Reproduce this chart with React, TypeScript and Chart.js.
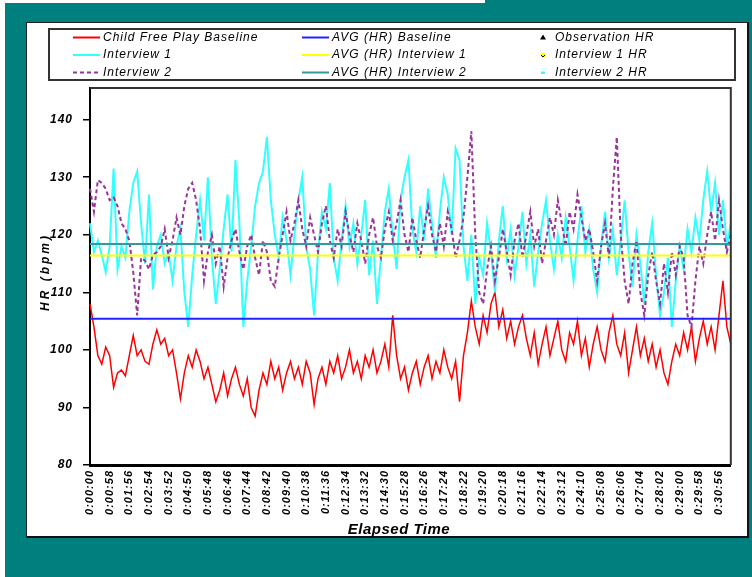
import React, { useEffect, useRef } from 'react';
import { Chart, registerables } from 'chart.js';

Chart.register(...registerables);

// x-axis tick labels (one every POINTS_PER_TICK samples)
const TICK_LABELS = [
  '0:00:00', '0:00:58', '0:01:56', '0:02:54', '0:03:52', '0:04:50', '0:05:48', '0:06:46',
  '0:07:44', '0:08:42', '0:09:40', '0:10:38', '0:11:36', '0:12:34', '0:13:32', '0:14:30',
  '0:15:28', '0:16:26', '0:17:24', '0:18:22', '0:19:20', '0:20:18', '0:21:16', '0:22:14',
  '0:23:12', '0:24:10', '0:25:08', '0:26:06', '0:27:04', '0:28:02', '0:29:00', '0:29:58',
  '0:30:56',
];
const POINTS_PER_TICK = 5;

const Y_TICKS = [80, 90, 100, 110, 120, 130, 140];
const Y_MIN = 80;
const Y_MAX = 145.5;

// Child Free Play Baseline
const BASELINE = [
  108, 104, 99, 97.5, 100.5, 99, 93.5, 96, 96.5, 95.5,
  99, 102.5, 99, 100, 98, 97.5, 101, 103.5, 101, 102,
  99, 100, 96, 91.5, 96, 99, 97, 100, 98, 95,
  97, 94, 91, 93, 96, 92, 95, 97, 94, 92,
  95, 90, 88.5, 93, 96, 94, 98, 95, 97, 93,
  96, 98, 95, 97, 94, 98, 96, 90.5, 95, 97,
  94, 98, 96, 99, 95, 97, 100, 96, 98, 95,
  99, 97, 100, 96, 98, 101, 97, 106, 99, 95,
  97, 93, 96, 98, 94, 97, 99, 95, 98, 96,
  100, 97, 95, 98, 91, 99, 103, 108.5, 104, 101,
  106, 103, 108, 110, 104, 107, 102, 105, 101, 104,
  106, 102, 99, 103, 97.5, 101, 104, 99, 102, 105,
  100, 98, 103, 101, 105, 99, 102, 97, 101, 104,
  100, 98, 103, 106, 101, 99, 103, 96, 100, 104,
  99, 102, 98, 101, 97, 100, 96, 94, 98, 101,
  99, 103, 100, 104, 98, 102, 105, 101, 104, 100,
  106, 112, 104, 101,
];

// Interview 1
const INTERVIEW1 = [
  122, 117, 119, 116.5, 113.5, 118, 131.5, 114, 118, 116,
  124, 129, 131, 122, 115, 127, 110.5, 118, 120, 115,
  117, 112, 118, 121, 110, 104, 113, 120, 126, 119,
  130, 116, 108, 114, 121, 127, 117, 133, 122, 104,
  112, 118, 125, 129, 131, 137, 126, 120, 116, 123,
  119, 113, 120, 126, 130, 118, 114, 106, 117, 124,
  121, 129, 116, 112, 119, 125, 118, 122, 115, 120,
  126, 113, 119, 108, 116, 124, 128, 120, 114, 126,
  130, 133, 121, 117, 125, 119, 128, 122, 116, 124,
  130, 127, 120, 135, 133, 118, 112, 120, 108, 116,
  113, 122, 117, 110, 119, 125, 116, 121, 113, 118,
  124, 115, 120, 111, 117, 122, 126, 119, 114, 120,
  116, 123, 118, 112, 119, 125, 117, 121, 114, 110,
  118, 124, 116, 121, 113, 119, 126, 117, 111, 120,
  115, 108, 117, 122, 113, 106, 110, 116, 104, 112,
  118, 114, 121, 117, 123, 119, 126, 131, 124, 129,
  120, 126, 118, 122,
];

// Interview 2
const INTERVIEW2 = [
  128, 124, 129.5, 129, 128, 126, 126.5, 125, 122, 121,
  119, 113.5, 106, 116, 115.5, 114, 116.5, 117, 118, 121,
  116, 119, 123, 120, 125, 128, 129, 126, 121, 112,
  117, 120, 115, 118, 111, 116, 119, 121, 117, 114,
  118, 120, 116, 113, 119, 117, 112, 111, 116, 120,
  124, 119, 122, 126, 121, 118, 123, 120, 117, 122,
  125, 119, 116, 121, 118, 124, 120, 117, 122, 119,
  115, 120, 123, 118, 116, 121, 124, 119, 122, 126,
  120, 117, 123, 119, 116, 121, 125, 120, 117, 122,
  118, 124, 121, 116, 119, 123, 130, 138, 120, 110,
  108, 114, 118, 112, 116, 121, 117, 113, 119, 122,
  116, 120, 124, 118, 121, 115, 119, 123, 120, 126,
  122, 118, 124, 121, 127, 123, 119, 121, 117, 112,
  118, 122, 116, 128, 137, 120, 112, 108, 115, 119,
  110, 106, 113, 117, 112, 108, 115, 110, 117, 113,
  118, 116, 106, 104, 112, 118, 115, 120, 124, 119,
  126, 121, 117, 120,
];

const AVG_BASELINE = 105.4;
const AVG_INTERVIEW1 = 116.4;
const AVG_INTERVIEW2 = 118.4;

const LEGEND_NAMES = [
  'Child Free Play Baseline', 'Interview 1', 'Interview 2',
  'AVG (HR) Baseline', 'AVG (HR) Interview 1', 'AVG (HR) Interview 2',
  'Observation HR', 'Interview 1 HR', 'Interview 2 HR',
];

const FONT = '"Liberation Sans", Arial, sans-serif';

const RED = '#ff0000';
const CYAN = '#33ffff';
const PURPLE = '#993399';
const BLUE = '#2222ff';
const YELLOW = '#ffff00';
const TEAL = '#339999';

export default function App() {
  const ref = useRef<HTMLCanvasElement>(null);

  useEffect(() => {
    document.body.style.margin = '0';
    const canvas = ref.current;
    if (!canvas) return;
    const n = BASELINE.length;
    const labels = Array.from({ length: n }, (_, i) =>
      i % POINTS_PER_TICK === 0 && TICK_LABELS[i / POINTS_PER_TICK] ? TICK_LABELS[i / POINTS_PER_TICK] : ''
    );
    const flat = (v: number) => BASELINE.map(() => v);

    const decor = {
      id: 'decor',
      beforeDraw(chart: any) {
        chart.ctx.letterSpacing = '1px';
      },
      afterDraw(chart: any) {
        const ctx = chart.ctx as CanvasRenderingContext2D;
        const ca = chart.chartArea;
        ctx.save();
        // plot frame (top & right)
        ctx.strokeStyle = '#333';
        ctx.lineWidth = 2;
        ctx.beginPath();
        ctx.moveTo(ca.left, ca.top);
        ctx.lineTo(ca.right, ca.top);
        ctx.lineTo(ca.right, ca.bottom);
        ctx.stroke();

        // legend box
        ctx.strokeStyle = '#333';
        ctx.lineWidth = 2;
        ctx.strokeRect(23, 7, 686, 51);

        const rows = [15.5, 33, 50.5];
        ctx.font = `italic 12px ${FONT}`;
        ctx.fillStyle = '#000';
        ctx.textBaseline = 'middle';
        ctx.textAlign = 'left';
        (ctx as any).letterSpacing = '1px';
        const lineItems = [
          { x: 47, y: rows[0], color: RED, dash: [] as number[] },
          { x: 47, y: rows[1], color: CYAN, dash: [] },
          { x: 47, y: rows[2], color: PURPLE, dash: [4, 3] },
          { x: 276, y: rows[0], color: BLUE, dash: [] },
          { x: 276, y: rows[1], color: YELLOW, dash: [] },
          { x: 276, y: rows[2], color: TEAL, dash: [] },
        ];
        lineItems.forEach((it, k) => {
          ctx.strokeStyle = it.color;
          ctx.lineWidth = 2;
          ctx.setLineDash(it.dash);
          ctx.beginPath();
          ctx.moveTo(it.x, it.y);
          ctx.lineTo(it.x + 27, it.y);
          ctx.stroke();
          ctx.setLineDash([]);
          ctx.fillText(LEGEND_NAMES[k], it.x + 30, it.y);
        });
        // marker items
        const mx = 517;
        ctx.fillStyle = '#000';
        ctx.beginPath();
        ctx.moveTo(mx, rows[0] - 3);
        ctx.lineTo(mx + 3, rows[0] + 2);
        ctx.lineTo(mx - 3, rows[0] + 2);
        ctx.closePath();
        ctx.fill();
        ctx.fillStyle = YELLOW;
        ctx.beginPath();
        ctx.arc(mx, rows[1], 2.5, 0, Math.PI * 2);
        ctx.fill();
        ctx.strokeStyle = '#000';
        ctx.lineWidth = 1;
        ctx.beginPath();
        ctx.moveTo(mx - 2, rows[1]);
        ctx.lineTo(mx, rows[1] + 2);
        ctx.lineTo(mx + 2, rows[1]);
        ctx.stroke();
        ctx.fillStyle = CYAN;
        ctx.fillRect(mx - 2, rows[2] - 1, 4, 2.5);
        ctx.fillStyle = '#000';
        for (let k = 6; k < 9; k++) ctx.fillText(LEGEND_NAMES[k], 529, rows[k - 6]);

        // axis titles
        ctx.fillStyle = '#000';
        ctx.textAlign = 'center';
        ctx.textBaseline = 'middle';
        ctx.font = `italic bold 15px ${FONT}`;
        (ctx as any).letterSpacing = '0.5px';
        ctx.fillText('Elapsed Time', 373, 508);
        ctx.translate(20, 250);
        ctx.rotate(-Math.PI / 2);
        ctx.font = `italic bold 12px ${FONT}`;
        (ctx as any).letterSpacing = '3px';
        ctx.fillText('HR (bpm)', 0, 0);
        ctx.restore();
      },
    };

    const chart = new Chart(canvas, {
      type: 'line',
      data: {
        labels,
        datasets: [
          { label: 'AVG (HR) Interview 2', data: flat(AVG_INTERVIEW2), borderColor: TEAL, borderWidth: 2, order: 0 },
          { label: 'AVG (HR) Interview 1', data: flat(AVG_INTERVIEW1), borderColor: YELLOW, borderWidth: 2, order: 1 },
          { label: 'AVG (HR) Baseline', data: flat(AVG_BASELINE), borderColor: BLUE, borderWidth: 2, order: 2 },
          { label: 'Interview 2', data: INTERVIEW2, borderColor: PURPLE, borderWidth: 2, borderDash: [4, 3], order: 3 },
          { label: 'Interview 1', data: INTERVIEW1, borderColor: CYAN, borderWidth: 2, order: 4 },
          { label: 'Child Free Play Baseline', data: BASELINE, borderColor: RED, borderWidth: 1.5, order: 5 },
        ],
      },
      plugins: [decor],
      options: {
        responsive: false,
        animation: false,
        layout: { padding: { left: 0, right: 14, top: 66, bottom: 0 } },
        elements: { point: { radius: 0 }, line: { tension: 0, fill: false } },
        plugins: { legend: { display: false }, tooltip: { enabled: false }, title: { display: false } },
        scales: {
          x: {
            type: 'category',
            grid: { display: true, drawOnChartArea: false, drawTicks: false },
            border: { display: true, color: '#000', width: 3 },
            ticks: {
              autoSkip: false,
              maxRotation: 90,
              minRotation: 90,
              padding: 5,
              color: '#000',
              font: { family: FONT, size: 11, style: 'italic', weight: 'bold' },
            },
            afterFit: (s: any) => { s.height = 73; },
          },
          y: {
            min: Y_MIN,
            max: Y_MAX,
            afterBuildTicks: (s: any) => { s.ticks = Y_TICKS.map((v) => ({ value: v })); },
            grid: { drawOnChartArea: false, drawTicks: true, tickLength: 7, color: '#000', lineWidth: 1.5 },
            border: { display: true, color: '#000', width: 2 },
            ticks: {
              padding: 10,
              color: '#000',
              font: { family: FONT, size: 12, style: 'italic', weight: 'bold' },
            },
            afterFit: (s: any) => { s.width = 64; },
          },
        },
      },
    } as any);
    return () => chart.destroy();
  }, []);

  return (
    <div style={{ position: 'relative', width: 752, height: 577, background: '#fff', overflow: 'hidden' }}>
      <div style={{ position: 'absolute', left: 5, top: 0, right: 0, bottom: 0, background: '#007f7f' }} />
      <div style={{ position: 'absolute', left: 5, top: 0, width: 480, height: 3, background: '#fff' }} />
      <div
        style={{
          position: 'absolute', left: 26, top: 22, width: 723, height: 516, background: '#fff',
          boxShadow: 'inset 1px 1px 0 #222, inset -2px -2px 0 #111',
        }}
      >
        <canvas ref={ref} width={723} height={516} style={{ position: 'absolute', left: 0, top: 0 }} />
      </div>
    </div>
  );
}
